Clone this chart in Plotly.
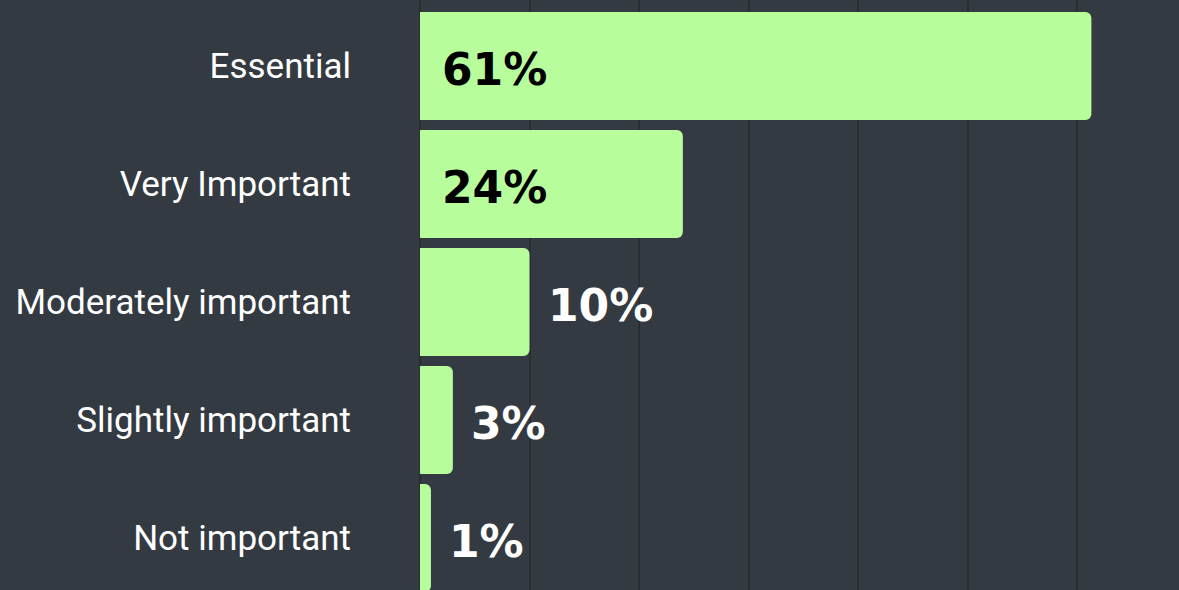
import plotly.graph_objects as go

categories = ["Essential", "Very Important", "Moderately important", "Slightly important", "Not important"]
values = [61.3, 24, 10, 3, 1]
labels = ["61%", "24%", "10%", "3%", "1%"]
inside = [True, True, False, False, False]

BG = "#343a41"
BAR = "#b8fd9c"
GRID = "#2a2e33"

fig = go.Figure(go.Bar(
    y=categories, x=values, orientation="h",
    marker=dict(color=BAR, line=dict(width=0)),
    width=0.915, hoverinfo="skip",
))

for c, v, t, ins in zip(categories, values, labels, inside):
    fig.add_annotation(
        x=0 if ins else v, y=c, text=t, showarrow=False,
        xanchor="left", yanchor="middle", xshift=20 if ins else 16, yshift=-4,
        font=dict(family="DejaVu Sans", size=44, weight="bold",
                  color="#000000" if ins else "#ffffff"),
    )

fig.update_layout(
    width=1179, height=590,
    margin=dict(l=420, r=0, t=0, b=0),
    paper_bgcolor=BG, plot_bgcolor=BG,
    barcornerradius=6,
    showlegend=False,
    xaxis=dict(range=[0, 69.3], dtick=10, showgrid=True, gridcolor=GRID, gridwidth=1.5,
               zeroline=True, zerolinecolor=GRID, zerolinewidth=1.5,
               showticklabels=False, fixedrange=True),
    yaxis=dict(categoryorder="array", categoryarray=categories,
               range=[4.441, -0.559], showgrid=False, zeroline=False,
               ticklabelstandoff=68, fixedrange=True,
               tickfont=dict(family="Roboto", size=35, color="#ffffff")),
)

fig.write_html(
    "out.html",
    config={"displayModeBar": False},
    post_script="document.body.style.margin='0';document.body.style.background='#343a41';document.body.style.overflow='hidden';",
)
